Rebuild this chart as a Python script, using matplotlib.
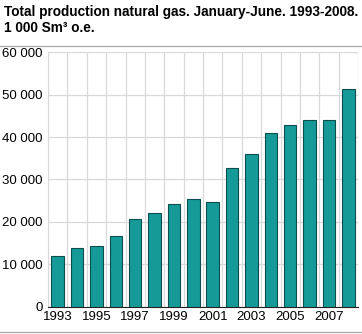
import matplotlib.pyplot as plt
import numpy as np
from matplotlib.lines import Line2D

years = list(range(1993, 2009))
production = [12000, 13800, 14300, 16700, 20700, 22000, 24300, 25300,
              24700, 32800, 35900, 41000, 42900, 44000, 44000, 51300]
yticks = [0, 10000, 20000, 30000, 40000, 50000, 60000]

plt.rcParams['font.family'] = ['Liberation Sans', 'DejaVu Sans']

fig = plt.figure(figsize=(3.62, 3.34), dpi=100)
ax = fig.add_axes([48 / 362, 1 - 306.6 / 334, 310 / 362, 254.3 / 334])

x = np.arange(len(years))
ax.bar(x, production, width=0.65, color='#169a98', edgecolor='#0c4e4e',
       linewidth=0.8, zorder=3)

ax.set_xlim(-0.5, len(years) - 0.5)
ax.set_ylim(0, 60000)
ax.set_yticks(yticks)
ax.set_yticklabels([f"{v:,}".replace(',', ' ') for v in yticks], fontsize=9.5)
ax.set_xticks(x[::2])
ax.set_xticklabels([str(y) for y in years[::2]], fontsize=9.5)
ax.set_xticks(np.arange(-0.5, len(years), 1), minor=True)
ax.tick_params(axis='y', length=0, pad=4)
ax.tick_params(axis='x', length=0, pad=3.5)
ax.tick_params(axis='x', which='minor', length=0)
ax.grid(axis='y', color='#d9d9d9', linewidth=0.9, zorder=0)
ax.grid(axis='x', which='minor', color='#d9d9d9', linewidth=0.9, zorder=0)
for side in ['top', 'right']:
    ax.spines[side].set_visible(False)
ax.spines['left'].set_color('#d9d9d9')
ax.spines['bottom'].set_color('#222222')
ax.spines['bottom'].set_linewidth(0.8)

fig.text(4 / 362, 1 - 12 / 334, 'Total production natural gas. January-June. 1993-2008.',
         fontsize=9.8, fontweight='bold', va='center', ha='left')
fig.text(4 / 362, 1 - 28 / 334, '1 000 Sm³ o.e.',
         fontsize=9.8, fontweight='bold', va='center', ha='left')
fig.add_artist(Line2D([0, 1], [1 - 46 / 334, 1 - 46 / 334], color='#aaaaaa',
                      linewidth=0.9, transform=fig.transFigure))
fig.add_artist(Line2D([0, 1], [1 - 332 / 334, 1 - 332 / 334], color='#aaaaaa',
                      linewidth=0.9, transform=fig.transFigure))

fig.savefig('out.png', dpi=100)
